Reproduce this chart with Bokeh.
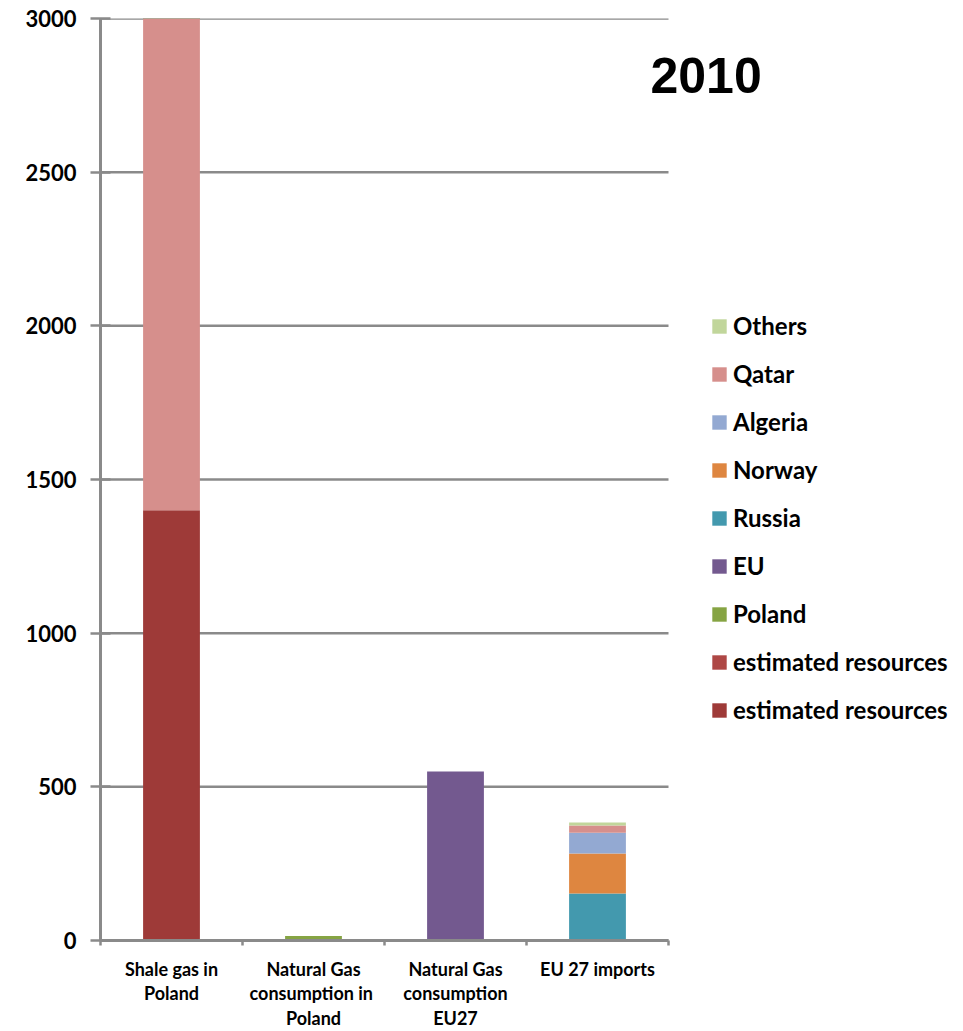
import numpy as np
from bokeh.plotting import figure
from bokeh.models import Range1d, FixedTicker, Legend, LegendItem, Label, ColumnDataSource
from bokeh.embed import file_html
from bokeh.resources import INLINE

# ---- data ----
categories = ["Shale gas in\nPoland",
              "Natural Gas\nconsumption  in\nPoland",
              "Natural Gas\nconsumption\nEU27",
              "EU 27 imports"]
est_dark = [1400, 0, 0, 0]      # estimated resources (lower segment)
est_upper = [3900, 0, 0, 0]     # estimated resources (upper segment, runs off the chart)
poland = [0, 15, 0, 0]
eu = [0, 0, 550, 0]
russia = [0, 0, 0, 153]
norway = [0, 0, 0, 130]
algeria = [0, 0, 0, 68]
qatar = [0, 0, 0, 23]
others = [0, 0, 0, 10]
y_ticks = [0, 500, 1000, 1500, 2000, 2500, 3000]
title_text = "2010"

n = len(categories)
centers = list(np.arange(n) + 0.5)
bounds = list(np.arange(n + 1).astype(float))

# upper segment is drawn pink on the chart; its legend swatch is the lighter red
upper_colors = ["#D68F8C"] + ["#AE4745"] * (n - 1)

series = [
    ("est_dark", est_dark, "#9E3A38"),
    ("est_upper", est_upper, "upper_color"),
    ("poland", poland, "#86A443"),
    ("eu", eu, "#73598F"),
    ("russia", russia, "#4399AE"),
    ("norway", norway, "#DE8640"),
    ("algeria", algeria, "#93A9D2"),
    ("qatar", qatar, "#D68F8C"),
    ("others", others, "#C1D69B"),
]

data = {"x": centers, "upper_color": upper_colors}
for name, vals, _ in series:
    data[name] = vals
src = ColumnDataSource(data)

GRAY = "#8A8A8A"

W, H = 963, 1031
LEFT, BOTTOM, TOP = 100, 91, 18
PLOT_RIGHT = 668  # pixel where the category area ends
x_end = n * (W - LEFT) / (PLOT_RIGHT - LEFT)

p = figure(width=W, height=H, x_range=Range1d(0, x_end), y_range=Range1d(0, 3000),
           output_backend="svg", toolbar_location=None,
           min_border_left=LEFT, min_border_right=0, min_border_top=TOP,
           min_border_bottom=BOTTOM)
p.outline_line_color = None
p.background_fill_color = "white"
p.border_fill_color = "white"

# horizontal gridlines limited to the category area
p.xgrid.visible = False
p.ygrid.visible = False
p.segment(x0=[0] * len(y_ticks), x1=[n] * len(y_ticks), y0=y_ticks, y1=y_ticks,
          line_color=GRAY, line_width=2.5)

rs = p.vbar_stack([s[0] for s in series], x="x", width=0.4, source=src,
                  fill_color=[s[2] for s in series], line_color=None)
rmap = {s[0]: r for s, r in zip(series, rs)}

# y axis
p.yaxis.ticker = FixedTicker(ticks=y_ticks)
p.yaxis.axis_line_color = GRAY
p.yaxis.axis_line_width = 3
p.yaxis.major_tick_line_color = GRAY
p.yaxis.major_tick_line_width = 2.5
p.yaxis.major_tick_in = 10
p.yaxis.major_tick_out = 10
p.yaxis.minor_tick_line_color = None
p.yaxis.major_label_standoff = 14
p.yaxis.major_label_text_font = "Lato"
p.yaxis.major_label_text_font_style = "bold"
p.yaxis.major_label_text_font_size = "22px"
p.yaxis.major_label_text_color = "black"

# x axis
p.xaxis.bounds = (0, n)
p.xaxis.ticker = FixedTicker(ticks=centers, minor_ticks=bounds)
p.xaxis.major_label_overrides = {c: lab for c, lab in zip(centers, categories)}
p.xaxis.axis_line_color = GRAY
p.xaxis.axis_line_width = 3
p.xaxis.major_tick_line_color = None
p.xaxis.major_tick_in = 0
p.xaxis.major_tick_out = 0
p.xaxis.minor_tick_line_color = GRAY
p.xaxis.minor_tick_line_width = 2.5
p.xaxis.minor_tick_in = 0
p.xaxis.minor_tick_out = 5
p.xaxis.major_label_standoff = 12
p.xaxis.major_label_text_font = "Lato"
p.xaxis.major_label_text_font_style = "bold"
p.xaxis.major_label_text_font_size = "18px"
p.xaxis.major_label_text_line_height = 1.12
p.xaxis.major_label_text_color = "black"

# legend
items = [
    LegendItem(label="Others", renderers=[rmap["others"]]),
    LegendItem(label="Qatar", renderers=[rmap["qatar"]]),
    LegendItem(label="Algeria", renderers=[rmap["algeria"]]),
    LegendItem(label="Norway", renderers=[rmap["norway"]]),
    LegendItem(label="Russia", renderers=[rmap["russia"]]),
    LegendItem(label="EU", renderers=[rmap["eu"]]),
    LegendItem(label="Poland", renderers=[rmap["poland"]]),
    LegendItem(label="estimated resources", renderers=[rmap["est_upper"]], index=1),
    LegendItem(label="estimated resources", renderers=[rmap["est_dark"]]),
]
legend = Legend(items=items, location=(610, 216), glyph_width=18, glyph_height=18,
                label_height=29, spacing=19, padding=0, margin=0, label_standoff=5,
                border_line_color=None, background_fill_alpha=0,
                label_text_font="Lato", label_text_font_style="bold",
                label_text_font_size="24px", label_text_color="black")
p.add_layout(legend, "center")

title = Label(x=3.873, y=2814, text=title_text, text_font="Liberation Sans",
              text_font_style="bold", text_font_size="50px", text_baseline="alphabetic",
              text_color="black")
p.add_layout(title)

open("out.html", "w").write(file_html(p, INLINE))
